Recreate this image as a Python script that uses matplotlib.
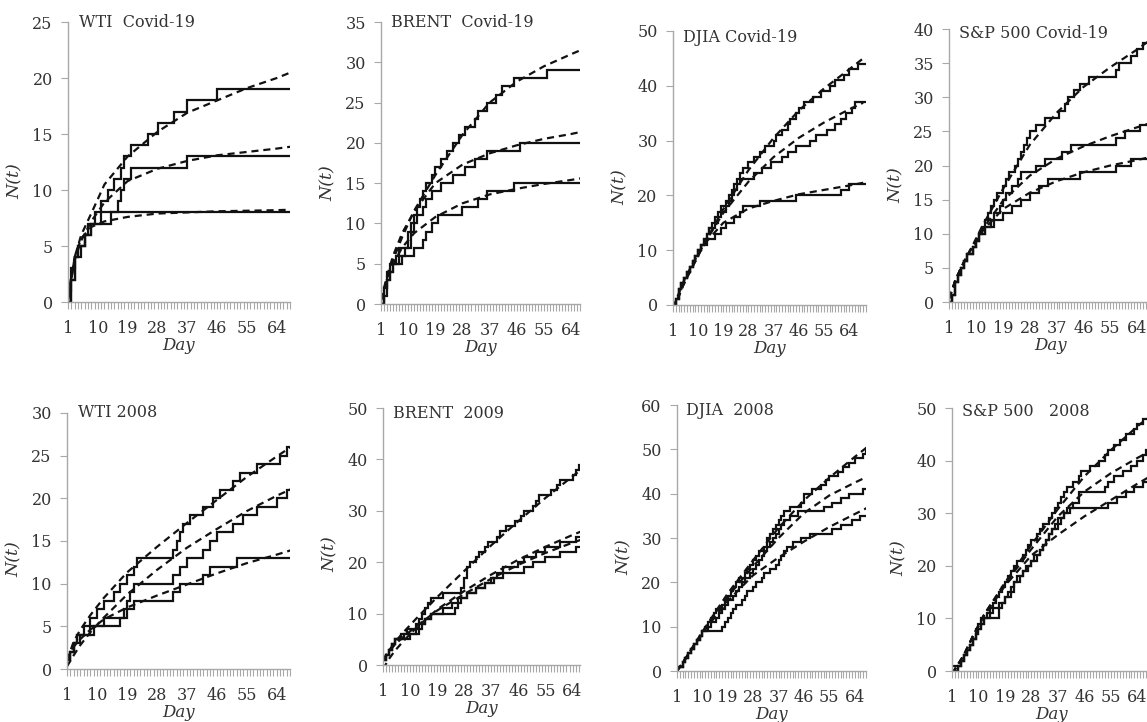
import matplotlib
matplotlib.use("Agg")
import matplotlib.pyplot as plt
from matplotlib.ticker import MultipleLocator, FixedLocator

plt.rcParams['font.family'] = ['DejaVu Serif']

# ---- data ---------------------------------------------------------------
# step series: (day, cumulative count) at each change
fit_days = [1, 3, 5, 8, 12, 19, 28, 37, 46, 55, 64, 69]
last_day = 70

titles = ['WTI  Covid-19', 'BRENT  Covid-19', 'DJIA Covid-19', 'S&P 500 Covid-19',
          'WTI 2008', 'BRENT  2009', 'DJIA  2008', 'S&P 500   2008']
ymax = [25, 35, 50, 40, 30, 50, 60, 50]
ystep = [5, 5, 10, 5, 5, 10, 10, 10]
xmax = [68, 67, 70, 69, 68, 66.5, 68, 69]

wti_cov_a = [(1,0),(2,2),(3,4),(4,5),(6,6),(7,7),(9,8),(11,9),(13,10),(15,11),(17,12),(18,13),(20,14),
             (25,15),(28,16),(33,17),(37,18),(46,19)]
wti_cov_b = [(1,0),(2,2),(3,4),(5,5),(6,6),(8,7),(11,8),(16,9),(17,10),(18,11),(20,12),(37,13)]
wti_cov_c = [(1,1),(2,3),(3,4),(4,5),(6,6),(8,7),(14,8)]
wti_cov_fit_a = [0.0, 4.0, 6.0, 7.9, 10.5, 13.0, 15.2, 16.9, 18.0, 19.1, 20.0, 20.6]
wti_cov_fit_b = [0.3, 3.8, 5.5, 7.2, 8.9, 10.8, 11.9, 12.6, 13.1, 13.4, 13.7, 13.9]
wti_cov_fit_c = [0.5, 4.0, 5.7, 6.7, 7.2, 7.6, 7.9, 8.0, 8.1, 8.15, 8.2, 8.25]

brent_cov_a = [(1,0),(2,2),(3,3),(4,4),(5,5),(6,6),(7,7),(10,9),(11,10),(12,11),(13,12),(14,13),(15,14),
               (16,15),(18,16),(19,17),(21,18),(23,19),(25,20),(27,21),(29,22),(32,23),(33,24),(36,25),
               (39,26),(41,27),(45,28),(56,29)]
brent_cov_b = [(1,0),(2,1),(3,3),(4,4),(5,5),(7,6),(9,7),(11,9),(12,10),(13,11),(15,12),(16,13),(18,14),
               (21,15),(25,16),(29,17),(32,18),(36,19),(47,20)]
brent_cov_c = [(1,0),(2,2),(3,4),(4,5),(8,6),(12,7),(15,8),(16,9),(18,10),(20,11),(28,12),(33,13),
               (36,14),(45,15)]
brent_cov_fit_a = [0.5, 3.2, 5.5, 8.3, 11.6, 16.0, 21.0, 25.0, 27.6, 29.5, 31.0, 31.8]
brent_cov_fit_b = [0.5, 3.5, 6.0, 8.8, 11.5, 15.0, 17.3, 18.7, 19.7, 20.5, 21.1, 21.5]
brent_cov_fit_c = [0.5, 3.0, 5.0, 7.0, 8.8, 10.8, 12.5, 13.6, 14.3, 14.9, 15.4, 15.7]

djia_cov_a = [(1,0),(2,1),(3,3),(4,4),(5,5),(6,6),(7,7),(8,8),(9,9),(10,10),(11,11),(12,12),(13,13),
              (14,14),(15,15),(16,16),(17,17),(18,18),(20,19),(21,20),(22,21),(23,22),(24,23),(25,24),
              (26,25),(28,26),(30,27),(32,28),(34,29),(37,30),(38,31),(40,32),(42,33),(43,34),(45,35),
              (46,36),(48,37),(51,38),(54,39),(57,40),(59,41),(62,42),(64,43),(67,44)]
djia_cov_b = [(1,0),(2,1),(3,3),(4,4),(5,5),(6,6),(7,7),(8,8),(9,9),(10,10),(11,11),(12,12),(13,13),
              (14,14),(16,15),(17,16),(18,17),(20,18),(21,19),(22,20),(23,21),(24,22),(25,23),(30,24),
              (33,25),(36,26),(40,27),(42,28),(45,29),(50,30),(52,31),(56,32),(59,33),(61,34),(63,35),
              (65,36),(66,37)]
djia_cov_c = [(1,0),(2,1),(3,3),(4,4),(5,5),(6,6),(7,7),(8,8),(9,9),(10,10),(11,11),(13,12),(16,13),
              (18,14),(20,15),(23,16),(25,17),(26,18),(32,19),(45,20),(61,21),(64,22)]
djia_cov_fit_a = [-1.0, 1.5, 4.0, 7.0, 11.0, 17.5, 24.6, 30.5, 35.5, 39.5, 43.0, 45.0]
djia_cov_fit_b = [-1.0, 1.5, 4.0, 7.0, 11.0, 16.8, 22.5, 27.0, 30.5, 33.3, 35.7, 36.9]
djia_cov_fit_c = [-0.5, 2.0, 4.5, 7.5, 11.0, 15.0, 17.6, 19.0, 20.2, 21.0, 21.8, 22.3]

sp_cov_a = [(1,0),(2,1),(3,3),(4,4),(5,5),(6,6),(7,7),(9,8),(10,9),(11,10),(12,11),(13,12),(14,13),
            (15,14),(16,15),(17,16),(19,17),(20,18),(21,19),(23,20),(24,21),(25,22),(26,23),(27,24),
            (28,25),(30,26),(33,27),(38,28),(40,29),(41,30),(43,31),(45,32),(48,33),(57,34),(58,35),
            (62,36),(64,37),(66,38)]
sp_cov_b = [(1,0),(2,1),(3,3),(4,4),(5,5),(6,6),(7,7),(9,8),(10,9),(11,10),(13,11),(15,12),(16,13),
            (18,14),(19,15),(20,16),(22,17),(24,18),(25,19),(30,20),(33,21),(39,22),(42,23),(57,24),
            (60,25),(65,26)]
sp_cov_c = [(1,0),(2,1),(3,3),(4,4),(5,5),(6,6),(7,7),(9,8),(10,9),(11,10),(13,11),(16,12),(19,13),
            (22,14),(25,15),(28,16),(31,17),(34,18),(45,19),(57,20),(62,21)]
sp_cov_fit_a = [0.5, 3.0, 5.0, 7.5, 11.0, 16.5, 23.0, 27.7, 31.5, 34.4, 37.0, 38.6]
sp_cov_fit_b = [0.5, 3.0, 5.0, 7.5, 10.5, 14.8, 18.5, 21.0, 22.8, 24.3, 25.6, 26.3]
sp_cov_fit_c = [0.5, 3.0, 5.0, 7.5, 10.3, 13.6, 16.0, 17.7, 19.0, 20.0, 20.8, 21.3]

wti_08_a = [(1,1),(2,2),(3,3),(4,4),(6,5),(8,6),(10,7),(12,8),(15,9),(17,10),(19,11),(21,12),(22,13),
            (33,14),(34,15),(35,16),(36,17),(38,18),(42,19),(45,20),(47,21),(51,22),(53,23),(58,24),
            (65,25),(67,26)]
wti_08_b = [(1,1),(2,2),(3,3),(5,4),(9,5),(12,6),(18,7),(19,8),(20,9),(21,10),(33,11),(35,12),(37,13),
            (42,14),(44,15),(46,16),(51,17),(54,18),(58,19),(64,20),(67,21)]
wti_08_c = [(1,1),(2,2),(3,3),(4,4),(8,5),(17,6),(19,7),(21,8),(33,9),(35,10),(42,11),(44,12),(52,13)]
wti_08_fit_a = [1.0, 3.2, 4.6, 6.3, 8.3, 11.3, 14.3, 17.1, 19.8, 22.5, 24.9, 26.2]
wti_08_fit_b = [0.3, 1.6, 2.8, 4.3, 6.0, 8.7, 11.6, 14.2, 16.4, 18.5, 20.3, 21.2]
wti_08_fit_c = [1.0, 2.6, 3.5, 4.6, 5.8, 7.2, 8.6, 9.9, 11.2, 12.4, 13.4, 14.0]

brent_09_a = [(1,1),(2,2),(3,3),(4,4),(5,5),(7,6),(9,7),(12,8),(13,9),(14,10),(15,11),(16,12),(17,13),
              (21,14),(27,15),(28,17),(29,19),(30,20),(32,21),(33,22),(35,23),(36,24),(39,25),(40,26),
              (42,27),(45,28),(47,29),(48,30),(51,31),(52,32),(53,33),(57,34),(59,35),(60,36),(64,37),
              (65,38),(66,39)]
brent_09_b = [(1,1),(2,2),(3,3),(4,4),(5,5),(8,6),(13,7),(14,8),(15,9),(17,10),(25,11),(26,12),(27,13),
              (29,14),(32,15),(35,16),(37,17),(39,18),(41,19),(46,20),(48,21),(52,22),(55,23),(60,24),
              (65,25)]
brent_09_c = [(1,1),(2,2),(3,3),(4,4),(5,5),(10,6),(12,7),(13,8),(15,9),(17,10),(21,11),(24,12),(26,13),
              (29,14),(32,15),(35,16),(38,17),(41,18),(48,19),(51,20),(55,21),(60,22),(65,23)]
brent_09_fit_a = [1.0, 2.8, 4.5, 6.5, 9.0, 13.2, 18.3, 23.3, 28.0, 32.5, 36.7, 39.0]
brent_09_fit_b = [-0.8, 1.2, 2.8, 4.8, 7.2, 10.8, 14.4, 17.6, 20.5, 23.0, 25.3, 26.5]
brent_09_fit_c = [1.0, 2.6, 4.0, 5.6, 7.5, 10.6, 13.8, 16.8, 19.5, 21.8, 23.8, 24.8]

djia_08_a = [(1,1),(3,2),(4,3),(5,4),(6,5),(7,6),(8,7),(9,8),(10,9),(11,10),(12,11),(13,12),(14,13),
             (15,14),(17,15),(18,16),(19,17),(20,18),(21,19),(22,20),(23,21),(25,22),(26,23),(27,24),
             (28,25),(29,26),(30,27),(32,28),(33,30),(34,31),(35,32),(36,33),(37,34),(38,35),(39,36),
             (41,37),(45,38),(46,40),(49,41),(52,42),(54,43),(55,44),(58,45),(60,46),(62,47),(64,48),
             (67,49),(68,50),(69,51)]
djia_08_b = [(1,1),(3,2),(4,3),(5,4),(6,5),(7,6),(8,7),(9,8),(10,9),(12,10),(13,11),(15,12),(16,13),
             (17,14),(18,15),(19,16),(21,17),(22,18),(23,19),(24,20),(25,21),(27,22),(28,23),(29,24),
             (30,25),(31,26),(32,27),(33,28),(34,29),(35,30),(36,31),(37,32),(38,33),(39,34),(41,35),
             (44,36),(53,37),(56,38),(59,39),(62,40),(67,41),(69,42)]
djia_08_c = [(1,1),(3,2),(4,3),(5,4),(6,5),(7,6),(8,7),(9,8),(10,9),(17,10),(18,11),(19,12),(20,13),
             (21,14),(22,15),(24,16),(25,17),(26,18),(28,19),(29,20),(31,21),(32,22),(34,23),(36,24),
             (37,25),(38,26),(39,27),(40,28),(42,29),(45,30),(48,31),(56,32),(59,33),(63,34),(66,35),
             (69,36)]
djia_08_fit_a = [0.0, 1.8, 3.8, 6.8, 10.8, 17.5, 25.0, 32.3, 38.5, 43.6, 48.3, 50.8]
djia_08_fit_b = [0.0, 1.8, 3.8, 6.8, 10.6, 16.8, 23.6, 30.0, 35.6, 39.6, 42.5, 44.0]
djia_08_fit_c = [0.0, 1.8, 3.8, 6.6, 10.2, 15.8, 21.6, 25.6, 29.2, 32.5, 35.4, 37.0]

sp_08_a = [(1,1),(4,2),(5,3),(6,4),(7,5),(8,6),(9,8),(10,9),(11,10),(13,11),(14,12),(15,13),(16,14),
           (17,15),(18,16),(19,17),(20,18),(21,19),(22,20),(23,21),(25,22),(26,23),(27,24),(28,25),
           (30,26),(31,27),(32,28),(34,29),(35,30),(36,31),(37,32),(38,33),(39,34),(40,35),(42,36),
           (44,37),(45,38),(48,39),(51,40),(53,41),(54,42),(56,43),(58,44),(60,45),(63,46),(64,47),
           (66,48),(68,49)]
sp_08_b = [(1,0),(3,1),(4,2),(5,3),(6,4),(7,5),(8,6),(9,7),(10,8),(11,9),(12,10),(17,12),(18,13),
           (19,14),(21,15),(22,17),(23,18),(25,19),(26,20),(28,21),(29,22),(31,23),(32,24),(33,25),
           (34,26),(35,27),(37,28),(38,29),(39,30),(40,31),(42,32),(44,34),(53,35),(54,36),(56,37),
           (59,38),(62,39),(64,40),(66,41),(67,42)]
sp_08_c = [(1,0),(3,1),(4,2),(5,3),(6,4),(7,5),(8,6),(9,7),(10,8),(11,9),(12,10),(14,11),(15,12),
           (17,13),(19,14),(20,15),(21,16),(22,17),(24,18),(25,19),(27,20),(28,21),(30,22),(31,23),
           (32,24),(33,25),(34,26),(35,27),(36,28),(37,29),(39,30),(41,31),(54,32),(57,33),(60,34),
           (63,35),(66,36),(68,37)]
sp_08_fit_a = [-0.5, 1.2, 3.0, 6.5, 10.8, 16.8, 24.0, 30.8, 37.0, 42.0, 46.5, 48.8]
sp_08_fit_b = [-0.5, 1.2, 3.0, 6.5, 10.8, 16.6, 23.2, 29.4, 34.1, 37.6, 40.5, 42.0]
sp_08_fit_c = [-0.5, 1.2, 3.0, 6.5, 10.6, 16.2, 22.0, 25.9, 29.4, 32.5, 35.6, 37.2]

steps = [
    [wti_cov_a, wti_cov_b, wti_cov_c],
    [brent_cov_a, brent_cov_b, brent_cov_c],
    [djia_cov_a, djia_cov_b, djia_cov_c],
    [sp_cov_a, sp_cov_b, sp_cov_c],
    [wti_08_a, wti_08_b, wti_08_c],
    [brent_09_a, brent_09_b, brent_09_c],
    [djia_08_a, djia_08_b, djia_08_c],
    [sp_08_a, sp_08_b, sp_08_c],
]
fits = [
    [wti_cov_fit_a, wti_cov_fit_b, wti_cov_fit_c],
    [brent_cov_fit_a, brent_cov_fit_b, brent_cov_fit_c],
    [djia_cov_fit_a, djia_cov_fit_b, djia_cov_fit_c],
    [sp_cov_fit_a, sp_cov_fit_b, sp_cov_fit_c],
    [wti_08_fit_a, wti_08_fit_b, wti_08_fit_c],
    [brent_09_fit_a, brent_09_fit_b, brent_09_fit_c],
    [djia_08_fit_a, djia_08_fit_b, djia_08_fit_c],
    [sp_08_fit_a, sp_08_fit_b, sp_08_fit_c],
]

# axes boxes in figure fraction [left, bottom, width, height]
boxes = [
    [0.0593, 0.5817, 0.1936, 0.3878],
    [0.3322, 0.5789, 0.1735, 0.3906],
    [0.5867, 0.5776, 0.1683, 0.3795],
    [0.8274, 0.5817, 0.1770, 0.3781],
    [0.0584, 0.0734, 0.1944, 0.3546],
    [0.3339, 0.0789, 0.1718, 0.3560],
    [0.5902, 0.0706, 0.1648, 0.3684],
    [0.8300, 0.0706, 0.1744, 0.3643],
]
title_y = [1.0, 1.0, 0.975, 0.985, 1.0, 0.98, 0.98, 0.985]
fig_w = 1147

fig = plt.figure(figsize=(11.47, 7.22), dpi=100)
grey = '#a8a8a8'
txt = '#333333'

for i in range(8):
    ax = fig.add_axes(boxes[i])
    for s in steps[i]:
        d = [p[0] for p in s] + [last_day]
        v = [p[1] for p in s] + [s[-1][1]]
        ax.plot(d, v, drawstyle='steps-post', color='#111111', lw=1.6, solid_joinstyle='miter')
    for f in fits[i]:
        ax.plot(fit_days, f, color='#111111', lw=1.6, linestyle=(0, (3.2, 2.2)))

    ax.set_xlim(1, xmax[i])
    ax.set_ylim(0, ymax[i])
    ax.xaxis.set_major_locator(FixedLocator([1, 10, 19, 28, 37, 46, 55, 64]))
    ax.xaxis.set_minor_locator(MultipleLocator(1))
    ax.yaxis.set_major_locator(MultipleLocator(ystep[i]))
    for side in ['top', 'right']:
        ax.spines[side].set_visible(False)
    for side in ['left', 'bottom']:
        ax.spines[side].set_color(grey)
        ax.spines[side].set_linewidth(1.0)
    ax.tick_params(axis='x', which='both', length=5, width=0.8, color=grey, pad=8,
                   labelsize=11.5, labelcolor=txt)
    ax.tick_params(axis='y', which='major', length=5, width=0.8, color=grey, pad=6,
                   labelsize=11.5, labelcolor=txt)
    ax.set_xlabel('Day', fontstyle='italic', fontsize=12, color=txt, labelpad=0)
    ax.set_ylabel('N(t)', fontstyle='italic', fontsize=12.5, color=txt)
    # keep the y label a fixed pixel distance left of the axis line
    ax.yaxis.set_label_coords(-44 / (boxes[i][2] * fig_w), 0.43)
    ax.text(0.05, title_y[i], titles[i], transform=ax.transAxes, fontsize=11.5,
            color=txt, va='center', ha='left')

fig.savefig('out.png', dpi=100)
